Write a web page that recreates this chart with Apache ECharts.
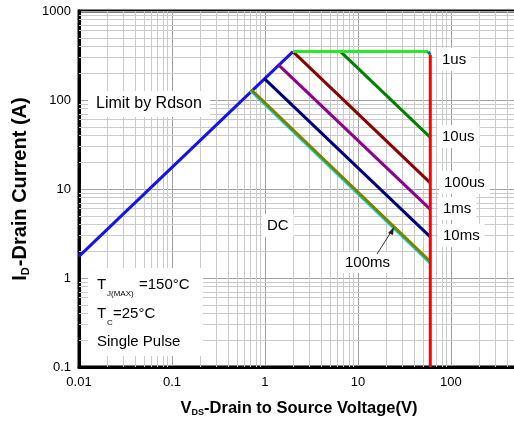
<!DOCTYPE html>
<html>
<head>
<meta charset="utf-8">
<script src="https://cdn.jsdelivr.net/npm/echarts@6/dist/echarts.min.js"></script>
<style>html,body{margin:0;padding:0;background:#fff}#c{width:514px;height:423px}</style>
</head>
<body>
<div id="c"></div>
<script>
// ---- data (V in volts, I in amps) ----
const rdsonV = [0.01, 2.0];   const rdsonI = [1.75, 350];
const lim1usV = [2.0, 57];    const lim1usI = [350, 350];
const tealV = [57, 60];       const tealI = [350, 322];
const t10usV = [6.5, 60];     const t10usI = [350, 38];
const t100usV = [2.0, 60];    const t100usI = [350, 11.7];
const t1msV = [1.39, 60];     const t1msI = [250, 5.9];
const t10msV = [0.98, 60];    const t10msI = [175, 2.9];
const t100msV = [0.71, 60];   const t100msI = [131, 1.53];
const dcV = [0.70, 60];       const dcI = [127, 1.47];
const bvV = [60, 60];         const bvI = [322, 0.1];
const xTicks = [0.01, 0.1, 1, 10, 100];
const yTicks = [0.1, 1, 10, 100, 1000];

function pairs(xs, ys){ return xs.map((x,i)=>[x, ys[i]]); }
const minorX = [], minorY = [];
for (let d = 0.01; d < 540; d *= 10) for (let k = 2; k <= 9; k++) { const v = +(d*k).toPrecision(3); if (v < 540) minorX.push(v); }
for (let d = 0.1; d < 1000; d *= 10) for (let k = 2; k <= 9; k++) minorY.push(+(d*k).toPrecision(3));

const F = 'Arial, "Liberation Sans", sans-serif';
const chart = echarts.init(document.getElementById('c'));
function line(name, xs, ys, color, w){
  return {name, type:'line', data:pairs(xs,ys), showSymbol:false, symbol:'none', silent:true,
    lineStyle:{color, width:w||3}, z:5, animation:false};
}
const gridMinor = '#cacaca', gridMajor = '#a0a0a0';
function tickFmt(ticks){ return v=>{ const t = ticks.find(x=>Math.abs(Math.log10(x)-Math.log10(v))<1e-6); return t!==undefined? String(t):''; }; }
chart.setOption({
  animation:false,
  grid:{left:79, top:11, width:440, height:356, show:true, borderColor:'#000', borderWidth:3, backgroundColor:'transparent', outerBoundsMode:'none', containLabel:false},
  xAxis:{type:'log', min:0.01, max:540, logBase:10,
    axisLine:{show:true, lineStyle:{color:'#000', width:3}}, axisTick:{show:false},
    splitLine:{show:true, lineStyle:{color:gridMajor, width:1}},
    axisLabel:{color:'#000', fontFamily:F, fontSize:13, margin:9, formatter:tickFmt(xTicks)},
    name:'{m|V}{s|DS}{m|-Drain to Source Voltage(V)}', nameLocation:'middle', nameGap:32,
    nameTextStyle:{rich:{m:{fontFamily:F, fontSize:16.5, fontWeight:'bold', color:'#000'}, s:{fontFamily:F, fontSize:9, fontWeight:'bold', color:'#000', verticalAlign:'bottom', padding:[9,0,0,0]}}}
  },
  yAxis:{type:'log', min:0.1, max:1000, logBase:10,
    axisLine:{show:true, lineStyle:{color:'#000', width:3}}, axisTick:{show:false},
    splitLine:{show:true, lineStyle:{color:gridMajor, width:1}},
    axisLabel:{color:'#000', fontFamily:F, fontSize:13, margin:8, formatter:tickFmt(yTicks)},
    name:'{m|I}{s|D}{m|-Drain Current (A)}', nameLocation:'middle', nameGap:43,
    nameTextStyle:{rich:{m:{fontFamily:F, fontSize:20, fontWeight:'bold', color:'#000'}, s:{fontFamily:F, fontSize:11, fontWeight:'bold', color:'#000', verticalAlign:'bottom', padding:[10,1,0,0]}}}
  },
  series:[
    {type:'line', data:[], silent:true, z:1,
      markLine:{silent:true, symbol:'none', label:{show:false}, animation:false,
        lineStyle:{color:gridMinor, width:1, type:'solid'},
        data: minorX.map(v=>({xAxis:v})).concat(minorY.map(v=>({yAxis:v})))}},
    line('rdson', rdsonV, rdsonI, '#1414e6'),
    line('dc', dcV, dcI, '#00e5e5'),
    line('100ms', t100msV, t100msI, '#808000'),
    line('10ms', t10msV, t10msI, '#00007a'),
    line('1ms', t1msV, t1msI, '#8c008c'),
    line('100us', t100usV, t100usI, '#8b0000'),
    line('10us', t10usV, t10usI, '#008000'),
    line('1us', lim1usV, lim1usI, '#22ee22'),
    line('teal', tealV, tealI, '#008080'),
    line('bv', bvV, bvI, '#ff0000')
  ],
  graphic:[
    {type:'text', left:88, top:91, z:10, style:{text:'Limit by Rdson', font:'16px '+F, fill:'#000', backgroundColor:'#fff', padding:[5,8,5,8]}},
    {type:'text', left:262, top:214, z:10, style:{text:'DC', font:'15px '+F, fill:'#000', backgroundColor:'#fff', padding:[4,5,4,5]}},
    {type:'text', left:342, top:252, z:10, style:{text:'100ms', font:'15px '+F, fill:'#000', backgroundColor:'#fff', padding:[3,3,3,3]}},
    {type:'text', left:437, top:48, z:10, style:{text:'1us', font:'15px '+F, fill:'#000', backgroundColor:'#fff', padding:[4,5,4,5]}},
    {type:'text', left:437, top:125, z:10, style:{text:'10us', font:'15px '+F, fill:'#000', backgroundColor:'#fff', padding:[4,5,4,5]}},
    {type:'text', left:439, top:171, z:10, style:{text:'100us', font:'15px '+F, fill:'#000', backgroundColor:'#fff', padding:[4,5,4,5]}},
    {type:'text', left:438, top:197, z:10, style:{text:'1ms', font:'15px '+F, fill:'#000', backgroundColor:'#fff', padding:[4,5,4,5]}},
    {type:'text', left:438, top:224, z:10, style:{text:'10ms', font:'15px '+F, fill:'#000', backgroundColor:'#fff', padding:[4,5,4,5]}},
    {type:'line', z:10, shape:{x1:377, y1:254, x2:391, y2:232}, style:{stroke:'#333', lineWidth:1}},
    {type:'polygon', z:10, shape:{points:[[394,227],[388,233],[393,235]]}, style:{fill:'#222'}},
    {type:'rect', z:9, shape:{x:88, y:268, width:115, height:88}, style:{fill:'#fff'}},
    {type:'text', left:97, top:277, z:10, style:{text:'T', font:'15px '+F, fill:'#000'}},
    {type:'text', left:107, top:290, z:10, style:{text:'J(MAX)', font:'8px '+F, fill:'#000'}},
    {type:'text', left:139, top:277, z:10, style:{text:'=150°C', font:'15px '+F, fill:'#000'}},
    {type:'text', left:97, top:306, z:10, style:{text:'T', font:'15px '+F, fill:'#000'}},
    {type:'text', left:107, top:319, z:10, style:{text:'C', font:'8px '+F, fill:'#000'}},
    {type:'text', left:113, top:306, z:10, style:{text:'=25°C', font:'15px '+F, fill:'#000'}},
    {type:'text', left:97, top:334, z:10, style:{text:'Single Pulse', font:'15px '+F, fill:'#000'}}
  ]
});
</script>
</body>
</html>
